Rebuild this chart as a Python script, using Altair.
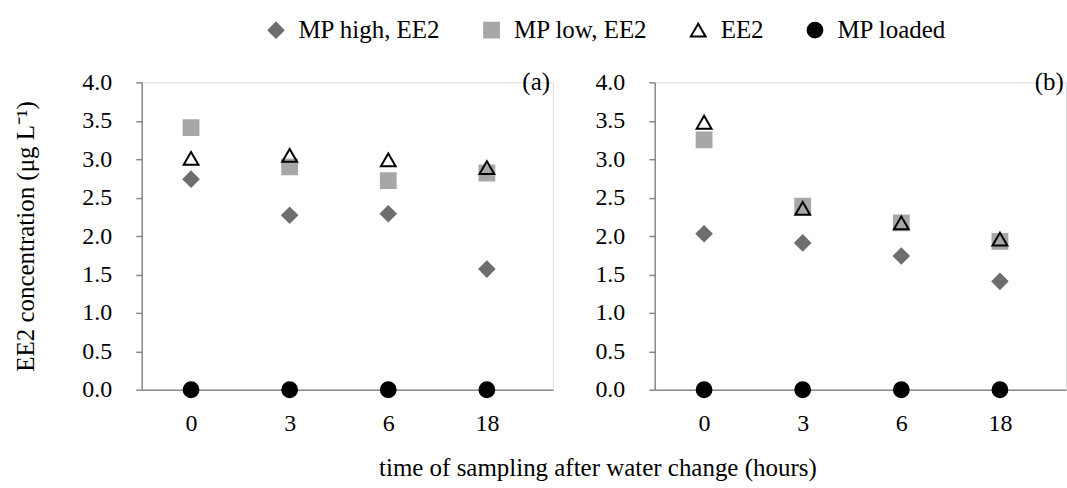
import altair as alt
import pandas as pd

times = ["0", "3", "6", "18"]
series = ["MP high, EE2", "MP low, EE2", "EE2", "MP loaded"]

a_high = [2.74, 2.27, 2.29, 1.57]
a_low = [3.41, 2.90, 2.72, 2.82]
a_ee2 = [3.01, 3.05, 2.99, 2.89]
a_loaded = [0.0, 0.0, 0.0, 0.0]

b_high = [2.03, 1.91, 1.74, 1.41]
b_low = [3.25, 2.39, 2.17, 1.93]
b_ee2 = [3.48, 2.36, 2.17, 1.96]
b_loaded = [0.0, 0.0, 0.0, 0.0]

shapes = ["diamond", "square", "triangle-up", "circle"]
fills = ["#6e6e70", "#a7a7a9", "transparent", "#000000"]
strokes = ["#6e6e70", "#a7a7a9", "#000000", "#000000"]

FONT = "Liberation Serif"
AXIS_COL = "#8a8a8a"


def make_df(vals):
    rows = []
    for s, v in zip(series, vals):
        for i, (t, y) in enumerate(zip(times, v)):
            rows.append({"series": s, "idx": i, "time": t, "value": y})
    return pd.DataFrame(rows)


label_expr = "[" + ",".join("'%s'" % t for t in times) + "][datum.value]"

legend = alt.Legend(title=None, orient="none", direction="horizontal",
                    legendX=122, legendY=-65,
                    labelFont=FONT, labelFontSize=25, labelColor="black",
                    symbolSize=220, symbolStrokeWidth=2,
                    labelOffset=10, columnPadding=38)


def panel(df, tag, show_title):
    x = alt.X(
        "idx:Q",
        scale=alt.Scale(domain=[-0.5, 3.67], nice=False, zero=False),
        axis=alt.Axis(values=[0, 1, 2, 3], labelExpr=label_expr, title=None,
                      ticks=False, grid=False, domainColor=AXIS_COL, domainWidth=1.5,
                      labelPadding=22, labelFontSize=24, labelFont=FONT, labelColor="black"),
    )
    y = alt.Y(
        "value:Q",
        scale=alt.Scale(domain=[0, 4], nice=False),
        axis=alt.Axis(values=[0, 0.5, 1, 1.5, 2, 2.5, 3, 3.5, 4], format=".1f",
                      title="EE2 concentration (μg L⁻¹)" if show_title else None,
                      grid=False, domainColor=AXIS_COL, domainWidth=1.5,
                      tickColor=AXIS_COL, tickWidth=1.5, tickSize=6,
                      labelOverlap=False, labelFlush=False, labelSeparation=0,
                      labelPadding=24, labelFontSize=24, labelFont=FONT, labelColor="black",
                      titleFont=FONT, titleFontSize=25, titleFontWeight="normal",
                      titleColor="black", titlePadding=43),
    )
    pts = alt.Chart(df).mark_point(filled=False, size=220, strokeWidth=2, opacity=1).encode(
        x=x,
        y=y,
        shape=alt.Shape("series:N", scale=alt.Scale(domain=series, range=shapes), legend=legend),
        fill=alt.Fill("series:N", scale=alt.Scale(domain=series, range=fills), legend=legend),
        stroke=alt.Stroke("series:N", scale=alt.Scale(domain=series, range=strokes), legend=legend),
        order=alt.Order("order:Q"),
    ).transform_calculate(order="indexof(%s, datum.series)" % str(series).replace("'", '"'))
    lab = alt.Chart(pd.DataFrame({"t": [tag], "idx": [3.5], "value": [4.0]})).mark_text(
        font=FONT, fontSize=25, color="black", align="center", baseline="middle"
    ).encode(x=x, y=y, text="t:N")
    return alt.layer(pts, lab).properties(width=412, height=308)


pa = panel(make_df([a_high, a_low, a_ee2, a_loaded]), "(a)", True)
pb = panel(make_df([b_high, b_low, b_ee2, b_loaded]), "(b)", False)

chart = alt.hconcat(pa, pb, spacing=40).resolve_legend(
    shape="shared", fill="shared", stroke="shared"
).properties(
    title=alt.TitleParams("time of sampling after water change (hours)", orient="bottom",
                          anchor="middle", font=FONT, fontSize=25, fontWeight="normal",
                          color="black", offset=20, dx=58),
    padding={"left": 13, "top": 17, "right": 0, "bottom": 5},
).configure_view(stroke=None).configure(
    background="white", font=FONT,
    style={"guide-label": {"font": FONT, "fill": "black"},
           "guide-title": {"font": FONT, "fill": "black"}},
).configure_legend(
    labelFont=FONT, labelFontSize=25, labelColor="black"
).configure_axis(labelFont=FONT, labelOverlap=False)

chart.save("out.html", embed_options={"renderer": "svg", "actions": False})
